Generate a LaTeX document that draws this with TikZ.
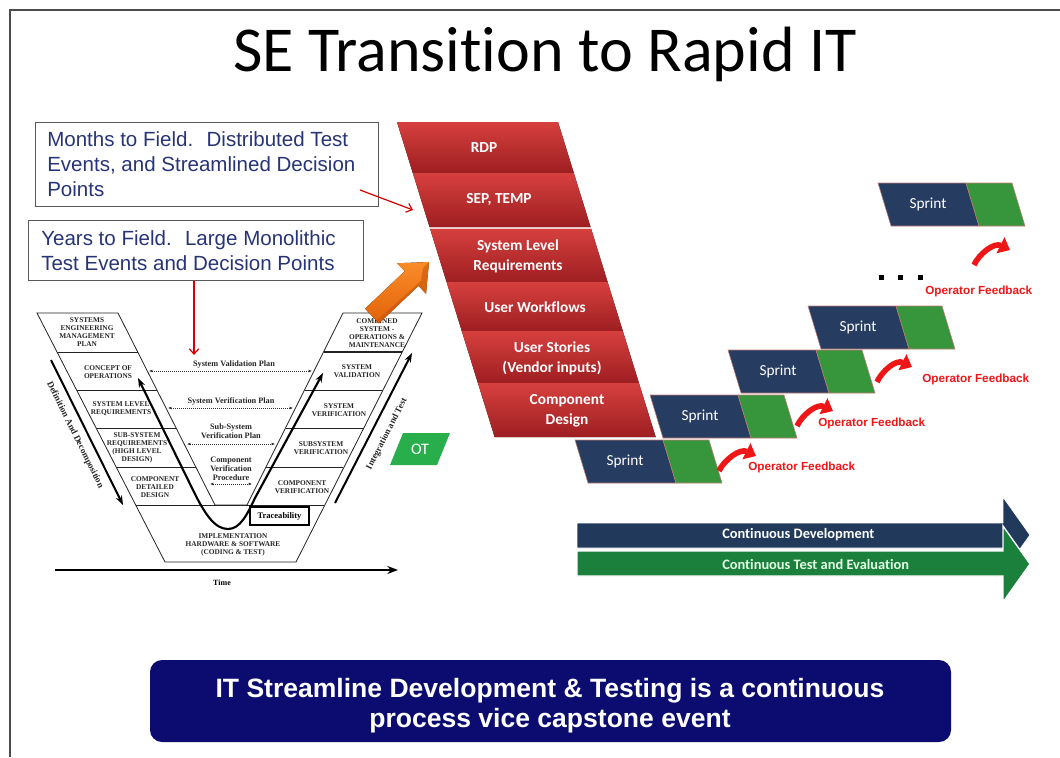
\documentclass[tikz,border=0pt]{standalone}
\usepackage{fontspec}
\setmainfont{Liberation Sans}
\newfontfamily\calfont{Carlito}[Ligatures=NoCommon]
\newfontfamily\tnfont{Liberation Serif}
\usetikzlibrary{arrows.meta,calc}

\definecolor{vline}{RGB}{35,35,35}
\definecolor{navyblk}{RGB}{38,60,97}
\definecolor{grnblk}{RGB}{55,150,60}
\definecolor{redtop}{RGB}{214,64,62}
\definecolor{redbot}{RGB}{158,30,33}
\definecolor{txtblue}{RGB}{40,52,120}
\definecolor{fbred}{RGB}{238,22,22}
\definecolor{arrnavy}{RGB}{33,58,92}
\definecolor{arrgreen}{RGB}{26,128,60}
\definecolor{bannerblue}{RGB}{12,12,112}
\definecolor{otgreen}{RGB}{40,175,75}
\definecolor{orgA}{RGB}{250,140,40}
\definecolor{orgB}{RGB}{226,98,10}
\definecolor{sprintedge}{RGB}{190,125,115}

\newcommand{\fsz}[2]{\fontsize{#1}{#2}\selectfont}

% one slanted block of the red requirements stack (top y, bottom y)
\newcommand{\stackblock}[2]{%
  \fill[top color=redtop,bottom color=redbot]
    ({397+0.31*(#1-122)},#1) -- ({558+0.31*(#1-122)},#1) --
    ({558+0.31*(#2-122)},#2) -- ({397+0.31*(#2-122)},#2) -- cycle;}

% a sprint: navy development part followed by a green test part
\newcommand{\sprintpair}[3]{%
  \filldraw[fill=navyblk,draw=sprintedge,line width=0.4pt]
    (#1,#2) -- ++(88,0) -- ++(13,43) -- ++(-88,0) -- cycle;
  \filldraw[fill=grnblk,draw=sprintedge,line width=0.4pt]
    ({#1+88},#2) -- ++(46,0) -- ++(13,43) -- ++(-46,0) -- cycle;
  \node[sprinttxt] (#3) at ({#1+50},{#2+21.5}) {Sprint};}

\tikzset{
  vl/.style={draw=vline,line width=0.6pt},
  vlabel/.style={font=\tnfont\bfseries\fsz{5.5}{6.1},align=center,inner sep=0pt,text=black!85},
  planlabel/.style={font=\tnfont\bfseries\fsz{6.2}{6.8},align=center,inner sep=0pt,text=black!85},
  planline/.style={draw=black!80,line width=0.5pt,densely dotted,{Latex[length=2.5pt,width=2.2pt]}-{Latex[length=2.5pt,width=2.2pt]}},
  sidelabel/.style={font=\tnfont\bfseries\fsz{6.8}{8},inner sep=0pt,text=black!85},
  infobox/.style={draw=black!65,line width=0.8pt,fill=white,anchor=north west,inner sep=0pt},
  infotext/.style={font=\fsz{15.4}{18},text=txtblue,anchor=base west,inner sep=0pt},
  redtxt/.style={font=\calfont\bfseries\fsz{11.5}{15},text=white,align=center,inner sep=0pt},
  sprinttxt/.style={font=\calfont\fsz{11.5}{13},text=white,inner sep=0pt},
  fbarrow/.style={draw=fbred,line width=4.2pt,-{Triangle[width=13pt,length=8pt]}},
  fblabel/.style={font=\bfseries\fsz{8.8}{10},text=fbred,anchor=west,inner sep=0pt},
  pointer/.style={draw=red!85!black,line width=0.9pt,-{Straight Barb[length=4pt,width=7pt]}},
}

\begin{document}
\begin{tikzpicture}[x=0.75pt,y=-0.75pt]
\useasboundingbox (0,0) rectangle (1060,757);

% slide frame
\draw[black!70,line width=0.8pt] (10,757) -- (10,10) -- (1060,10);

% title
\node[font=\calfont\fsz{48}{52},anchor=base,inner sep=0pt] (title) at (545,71) {SE Transition to Rapid IT};

% ---------- classic V model ----------
\draw[vl] (37,313) -- (118,313) -- (215,505) -- (247,505) -- (343,313) -- (422,313)
          -- (296,562) -- (165,562) -- cycle;
\foreach \yy in {352,390,428,467}{
  \draw[vl] ({37+0.514*(\yy-313)},\yy) -- ({118+0.505*(\yy-313)},\yy);
  \draw[vl] ({343-0.5*(\yy-313)},\yy) -- ({422-0.51*(\yy-313)},\yy);
}
\draw[vl,line width=1.1pt] (324,352) -- (402,352);
\draw[vl] (135.7,505) -- (324.1,505);

\node[vlabel] (semp) at (87,332) {SYSTEMS\\ENGINEERING\\MANAGEMENT\\PLAN};
\node[vlabel] (conops) at (108,372) {CONCEPT OF\\OPERATIONS};
\node[vlabel] (slr) at (121,409) {SYSTEM LEVEL\\REQUIREMENTS};
\node[vlabel] (ssr) at (137,448) {SUB-SYSTEM\\REQUIREMENTS\\(HIGH LEVEL\\DESIGN)};
\node[vlabel] (cdd) at (155,487) {COMPONENT\\DETAILED\\DESIGN};
\node[vlabel] (csom) at (377,333) {COMBINED\\SYSTEM -\\OPERATIONS \&\\MAINTENANCE};
\node[vlabel] (sval) at (357,371) {SYSTEM\\VALIDATION};
\node[vlabel] (sver) at (339,410) {SYSTEM\\VERIFICATION};
\node[vlabel] (ssver) at (321,448) {SUBSYSTEM\\VERIFICATION};
\node[vlabel] (cver) at (302,487) {COMPONENT\\VERIFICATION};
\node[vlabel] (impl) at (233,545) {IMPLEMENTATION\\HARDWARE \& SOFTWARE\\(CODING \& TEST)};

% verification and validation plans across the V
\coordinate (p1a) at (149,371); \coordinate (p1b) at (312,371);
\coordinate (p2a) at (168,408); \coordinate (p2b) at (293,408);
\coordinate (p3a) at (187,444); \coordinate (p3b) at (275,444);
\coordinate (p4a) at (210,484); \coordinate (p4b) at (252,484);
\draw[planline] (p1a) -- (p1b);
\draw[planline] (p2a) -- (p2b);
\draw[planline] (p3a) -- (p3b);
\draw[planline] (p4a) -- (p4b);
\node[planlabel] (valplan) at (234,365) {System Validation Plan};
\node[planlabel] (verplan) at (231,401) {System Verification Plan};
\node[planlabel] (ssplan) at (231,431) {Sub-System\\Verification Plan};
\node[planlabel] (cvproc) at (231,469) {Component\\Verification\\Procedure};

% traceability loop
\node[draw=black,line width=1.1pt,fill=white,minimum width=44pt,minimum height=13.5pt,
      inner sep=0pt,font=\tnfont\bfseries\fsz{6.4}{7}] (trace) at (279.5,516) {Traceability};
\coordinate (u1) at (138,378); \coordinate (u2) at (323,373);
\draw[line width=1.6pt,{Stealth[length=7pt,width=5pt]}-{Stealth[length=7pt,width=5pt]}]
  (u1) -- (192,488) .. controls (205,515) and (215,529) .. (228,529)
       .. controls (240,529) and (247,515) .. (255,498) -- (u2);

% side arrows and time axis
\coordinate (dd1) at (51,360); \coordinate (dd2) at (123,505);
\draw[line width=1.5pt,-{Stealth[length=7pt,width=5pt]}] (dd1) -- (dd2);
\node[sidelabel,rotate=-63.6] (ddtxt) at (75,435) {Definition And Decomposition};
\coordinate (it1) at (335,503); \coordinate (it2) at (412,353);
\draw[line width=1.5pt,-{Stealth[length=7pt,width=5pt]}] (it1) -- (it2);
\node[sidelabel,rotate=62.8] (ittxt) at (387,434) {Integration and Test};
\coordinate (t1) at (55,570); \coordinate (t2) at (398,570);
\draw[line width=1.7pt,-{Stealth[length=8pt,width=6pt]}] (t1) -- (t2);
\node[font=\tnfont\bfseries\fsz{6}{7},inner sep=0pt] (time) at (222,583) {Time};

% orange transition arrow
\fill[top color=orgA,bottom color=orgB]
  (378.9,323.3) -- (418.5,285.8) -- (426.0,293.7) -- (429,262) -- (397.2,263.3)
  -- (404.7,271.2) -- (365.1,308.7) -- cycle;
\fill[orgB!85!black,opacity=0.55]
  (378.9,323.3) -- (418.5,285.8) -- (426.0,293.7) -- (429,262) -- (423,268) -- (421,281) -- (375,322) -- cycle;

% OT tag
\fill[otgreen] (390,465) -- (403,433) -- (450,433) -- (437,465) -- cycle;
\node[font=\calfont\fsz{12}{14},text=white,inner sep=0pt] (ot) at (420,449) {OT};

% ---------- text boxes ----------
\node[infobox,minimum width=257.25pt,minimum height=63pt] (months) at (35,122) {};
\node[infotext] (m1) at (47,146) {Months to Field.~ Distributed Test};
\node[infotext] (m2) at (47,171) {Events, and Streamlined Decision};
\node[infotext] (m3) at (47,196) {Points};
\node[infobox,minimum width=251.25pt,minimum height=45pt] (years) at (28,220) {};
\node[infotext] (y1) at (41,245) {Years to Field.~ Large Monolithic};
\node[infotext] (y2) at (41,270) {Test Events and Decision Points};

\coordinate (mstart) at (360,190); \coordinate (mend) at (413,210);
\draw[pointer] (mstart) -- (mend);
\coordinate (yend) at (194,355);
\draw[pointer] (years.south -| yend) -- (yend);

% ---------- rapid IT requirements stack ----------
\stackblock{122}{173}
\stackblock{173}{227}
\stackblock{228}{282}
\stackblock{282}{331}
\stackblock{331}{383}
\stackblock{383}{437}
\draw[white!80!red,line width=0.6pt] ({397+0.31*106},228) -- ({558+0.31*106},228);
\node[redtxt] (rdp) at (484,148) {RDP};
\node[redtxt] (sep) at (499,200) {SEP, TEMP};
\node[redtxt] (sysreq) at (518,256) {System Level\\Requirements};
\node[redtxt] (uwf) at (535,307) {User Workflows};
\node[redtxt] (ustory) at (552,358) {User Stories\\(Vendor inputs)};
\node[redtxt] (cdes) at (567,411) {Component\\Design};

% ---------- sprints with operator feedback ----------
\sprintpair{575}{440}{sp1}
\sprintpair{650}{395}{sp2}
\sprintpair{728}{350}{sp3}
\sprintpair{808}{306}{sp4}
\sprintpair{878}{183}{sp5}

\coordinate (f1a) at (719,471); \coordinate (f1b) at (756,456);
\coordinate (f2a) at (797,426); \coordinate (f2b) at (833,411);
\coordinate (f3a) at (877,382); \coordinate (f3b) at (912,367);
\coordinate (f4a) at (974,265); \coordinate (f4b) at (1010,250);
\foreach \a/\b in {f1a/f1b,f2a/f2b,f3a/f3b,f4a/f4b}
  \draw[fbarrow] (\a) .. controls +(5,-11) and +(-16,-8) .. (\b);
\node[fblabel] (fb1) at (748,467) {Operator Feedback};
\node[fblabel] (fb2) at (818,423) {Operator Feedback};
\node[fblabel] (fb3) at (922,379) {Operator Feedback};
\node[fblabel] (fb4) at (925,291) {Operator Feedback};

\foreach \dx in {879,898,918}
  \fill[black] (\dx,275) rectangle +(4.5,4.5);

% ---------- continuous development / test arrows ----------
\filldraw[fill=arrnavy,draw=white,line width=0.6pt]
  (577,523) -- (1003,523) -- (1003,497) -- (1030,535) -- (1003,573) -- (1003,548) -- (577,548) -- cycle;
\filldraw[fill=arrgreen,draw=white,line width=1pt]
  (577,551) -- (1003,551) -- (1003,526) -- (1030,564) -- (1003,602) -- (1003,576) -- (577,576) -- cycle;
\node[font=\calfont\bfseries\fsz{10.8}{12},text=white,anchor=west,inner sep=0pt] (cdev) at (722,535) {Continuous Development};
\node[font=\calfont\bfseries\fsz{10.8}{12},text=green!10!white,anchor=west,inner sep=0pt] (cte) at (722,564) {Continuous Test and Evaluation};

% ---------- key message banner ----------
\node[fill=bannerblue,rounded corners=9pt,minimum width=600.75pt,minimum height=61.5pt,inner sep=0pt] (banner) at (550.5,701) {};
\node[font=\bfseries\fsz{19.9}{22},text=white,anchor=base,inner sep=0pt] (b1) at (550,697) {IT Streamline Development \& Testing is a continuous};
\node[font=\bfseries\fsz{19.9}{22},text=white,anchor=base,inner sep=0pt] (b2) at (550,727) {process vice capstone event};
\end{tikzpicture}
\end{document}
